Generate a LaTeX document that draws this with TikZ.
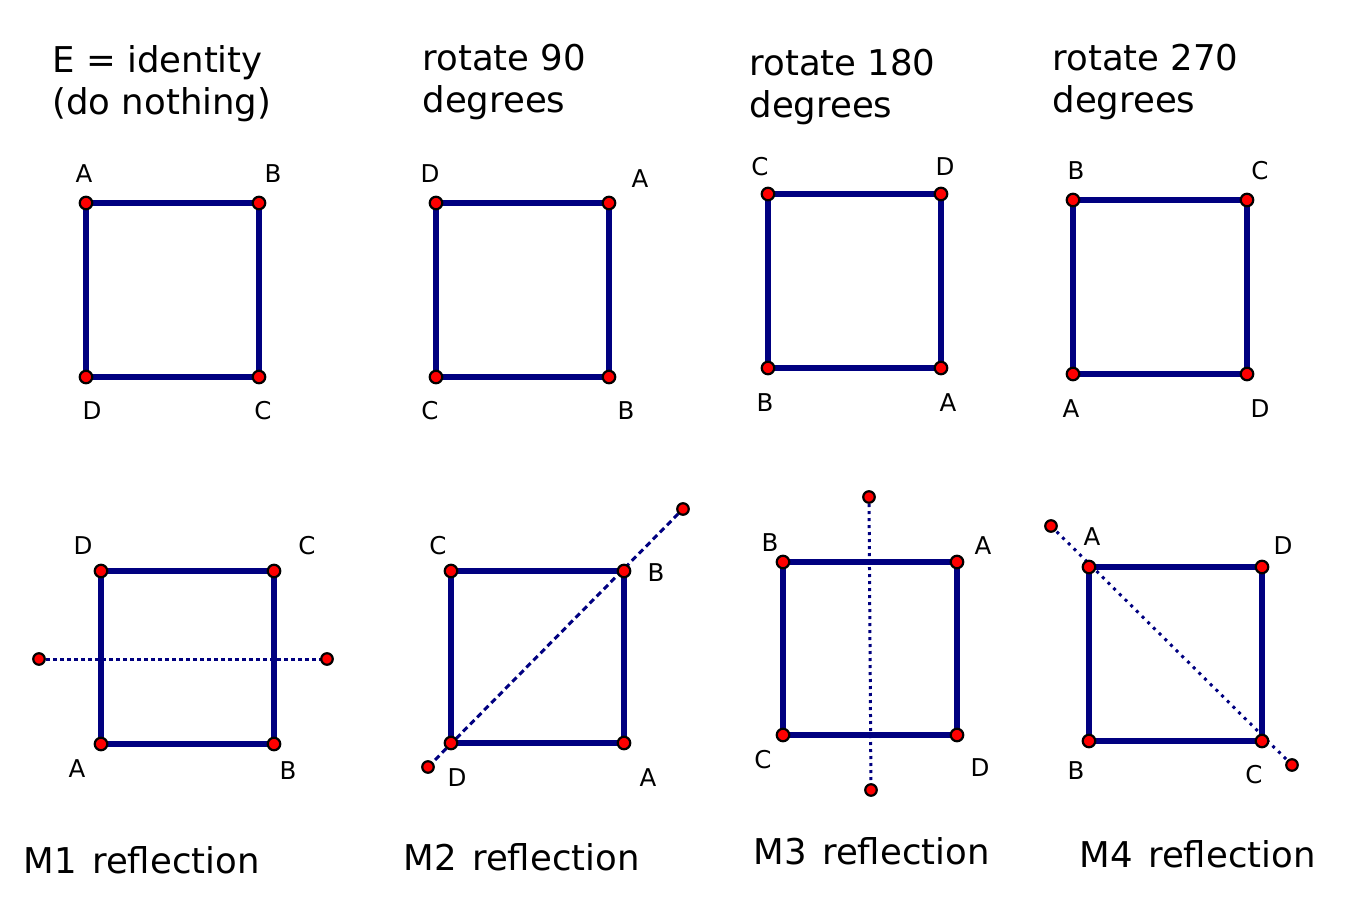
\documentclass[tikz,border=0pt]{standalone}
\usepackage{fontspec}
\setmainfont{DejaVu Sans}
\usetikzlibrary{backgrounds}

\definecolor{navy}{RGB}{0,0,128}

\tikzset{
  edge/.style={navy, line width=6pt},
  vdot/.style={circle, draw=black, fill=red, line width=2.2pt, minimum size=12.5pt, inner sep=0pt},
  enddot/.style={vdot, minimum size=11.5pt},
  vlabel/.style={font=\fontsize{24.5}{28}\selectfont},
  title/.style={anchor=base west, font=\fontsize{35.5}{40}\selectfont},
  axisline/.style={navy, line width=3pt},
}

\begin{document}
\begin{tikzpicture}[x=1pt, y=-1pt]
  \useasboundingbox (0,0) rectangle (1370,913);

  % Identity
  \node[title] (t1a) at (49,72) {E = identity};
  \node[title] (t1b) at (49,114) {(do nothing)};
  \node[vdot] (eA) at (86,203) {};  \node[vdot] (eB) at (259,203) {};
  \node[vdot] (eC) at (259,377) {}; \node[vdot] (eD) at (86,377) {};
  \node[vlabel] at (84,174) {A};  \node[vlabel] at (273,174) {B};
  \node[vlabel] at (263,411) {C}; \node[vlabel] at (92,411) {D};

  % Rotate 90
  \node[title] (t2a) at (419,70) {rotate 90};
  \node[title] (t2b) at (419,112) {degrees};
  \node[vdot] (rA) at (609,203) {}; \node[vdot] (rB) at (609,377) {};
  \node[vdot] (rC) at (436,377) {}; \node[vdot] (rD) at (436,203) {};
  \node[vlabel] at (640,179) {A}; \node[vlabel] at (626,411) {B};
  \node[vlabel] at (430,411) {C}; \node[vlabel] at (430,174) {D};

  % Rotate 180
  \node[title] (t3a) at (746,75) {rotate 180};
  \node[title] (t3b) at (746,117) {degrees};
  \node[vdot] (sA) at (941,368) {}; \node[vdot] (sB) at (768,368) {};
  \node[vdot] (sC) at (768,194) {}; \node[vdot] (sD) at (941,194) {};
  \node[vlabel] at (948,403) {A}; \node[vlabel] at (765,403) {B};
  \node[vlabel] at (760,167) {C}; \node[vlabel] at (945,167) {D};

  % Rotate 270
  \node[title] (t4a) at (1049,70) {rotate 270};
  \node[title] (t4b) at (1049,112) {degrees};
  \node[vdot] (uA) at (1073,374) {}; \node[vdot] (uB) at (1073,200) {};
  \node[vdot] (uC) at (1247,200) {}; \node[vdot] (uD) at (1247,374) {};
  \node[vlabel] at (1071,409) {A}; \node[vlabel] at (1076,171) {B};
  \node[vlabel] at (1260,171) {C}; \node[vlabel] at (1260,409) {D};

  % M1 reflection
  \node[title] (t5) at (20,873) {M1\hspace{0.12em} reflection};
  \node[vdot] (mA) at (101,744) {}; \node[vdot] (mB) at (274,744) {};
  \node[vdot] (mC) at (274,571) {}; \node[vdot] (mD) at (101,571) {};
  \node[enddot] (m1) at (39,659) {}; \node[enddot] (m2) at (327,659) {};
  \node[vlabel] at (77,769) {A};  \node[vlabel] at (288,771) {B};
  \node[vlabel] at (307,546) {C}; \node[vlabel] at (83,546) {D};

  % M2 reflection
  \node[title] (t6) at (400,870) {M2\hspace{0.12em} reflection};
  \node[vdot] (nA) at (624,743) {}; \node[vdot] (nB) at (624,571) {};
  \node[vdot] (nC) at (451,571) {}; \node[vdot] (nD) at (451,743) {};
  \node[enddot] (n1) at (428,767) {}; \node[enddot] (n2) at (683,509) {};
  \node[vlabel] at (648,778) {A}; \node[vlabel] at (656,573) {B};
  \node[vlabel] at (438,546) {C}; \node[vlabel] at (457,778) {D};

  % M3 reflection
  \node[title] (t7) at (750,864) {M3\hspace{0.12em} reflection};
  \node[vdot] (pA) at (957,562) {}; \node[vdot] (pB) at (783,562) {};
  \node[vdot] (pC) at (783,735) {}; \node[vdot] (pD) at (957,735) {};
  \node[enddot] (p1) at (869,497) {}; \node[enddot] (p2) at (871,790) {};
  \node[vlabel] at (983,546) {A}; \node[vlabel] at (770,543) {B};
  \node[vlabel] at (763,760) {C}; \node[vlabel] at (980,768) {D};

  % M4 reflection
  \node[title] (t8) at (1076,867) {M4\hspace{0.12em} reflection};
  \node[vdot] (qA) at (1089,567) {}; \node[vdot] (qB) at (1089,741) {};
  \node[vdot] (qC) at (1262,741) {}; \node[vdot] (qD) at (1262,567) {};
  \node[enddot] (q1) at (1051,526) {}; \node[enddot] (q2) at (1292,765) {};
  \node[vlabel] at (1092,537) {A}; \node[vlabel] at (1076,771) {B};
  \node[vlabel] at (1254,775) {C}; \node[vlabel] at (1283,546) {D};

  % Squares and mirror lines, under the dots
  \begin{scope}[on background layer]
    \draw[edge] (eA.center) -- (eB.center) -- (eC.center) -- (eD.center) -- cycle;
    \draw[edge] (rD.center) -- (rA.center) -- (rB.center) -- (rC.center) -- cycle;
    \draw[edge] (sC.center) -- (sD.center) -- (sA.center) -- (sB.center) -- cycle;
    \draw[edge] (uB.center) -- (uC.center) -- (uD.center) -- (uA.center) -- cycle;
    \draw[edge] (mD.center) -- (mC.center) -- (mB.center) -- (mA.center) -- cycle;
    \draw[edge] (nC.center) -- (nB.center) -- (nA.center) -- (nD.center) -- cycle;
    \draw[edge] (pB.center) -- (pA.center) -- (pD.center) -- (pC.center) -- cycle;
    \draw[edge] (qA.center) -- (qD.center) -- (qC.center) -- (qB.center) -- cycle;

    \draw[axisline, dash pattern=on 3.5pt off 3.5pt] (m1.center) -- (m2.center);
    \draw[axisline, dash pattern=on 6pt off 4pt] (n1.center) -- (n2.center);
    \draw[axisline, dash pattern=on 3pt off 4pt] (p1.center) -- (p2.center);
    \draw[axisline, dash pattern=on 3pt off 5pt] (q1.center) -- (q2.center);
  \end{scope}
\end{tikzpicture}
\end{document}
